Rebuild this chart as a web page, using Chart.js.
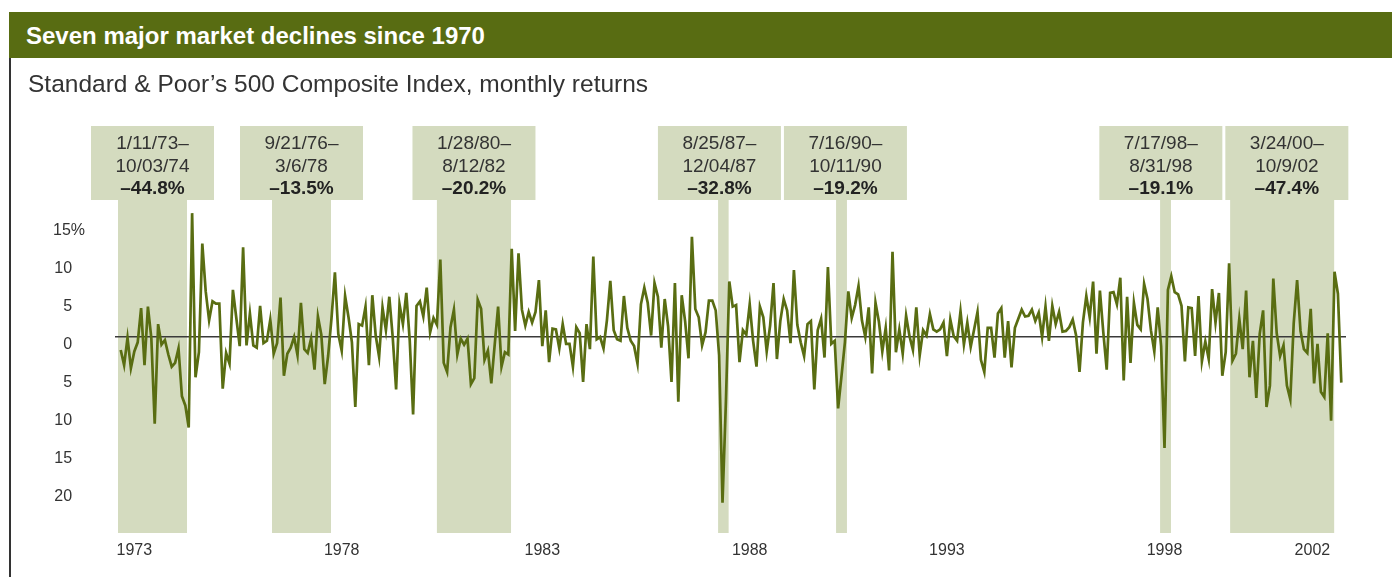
<!DOCTYPE html>
<html>
<head>
<meta charset="utf-8">
<script src="https://cdn.jsdelivr.net/npm/chart.js@4.4.1/dist/chart.umd.min.js"></script>
<style>
html,body{margin:0;padding:0;background:#fff;}
#wrap{position:relative;width:1392px;height:577px;overflow:hidden;font-family:"Liberation Sans",Arial,sans-serif;}
#c{position:absolute;left:0;top:0;}
#title{position:absolute;left:9px;top:12px;width:1383px;height:46px;background:#586c12;color:#fff;font-weight:bold;font-size:24px;line-height:47px;padding-left:17px;box-sizing:border-box;white-space:nowrap;}
#sub{position:absolute;left:28px;top:69px;font-size:24.5px;color:#333;line-height:30px;white-space:nowrap;}
#rule{position:absolute;left:9px;top:58px;width:2px;height:519px;background:#333;}
</style>
</head>
<body>
<div id="wrap">
  <canvas id="c" width="1392" height="577"></canvas>
  <div id="title">Seven major market declines since 1970</div>
  <div id="sub">Standard &amp; Poor’s 500 Composite Index, monthly returns</div>
  <div id="rule"></div>
</div>
<script>
// ---- DATA: S&P 500 monthly returns (%), Jan 1973 - Dec 2002 ----
const returns1973to1979 = [
  -1.7,-3.7,-0.1,-4.1,-1.9,-0.7,3.8,-3.7,4.0,-0.1,-11.4,1.7,
  -1.0,-0.4,-2.3,-3.9,-3.4,-1.5,-7.8,-9.0,-11.9,16.3,-5.3,-2.0,
  12.3,6.0,2.2,4.7,4.4,4.4,-6.8,-2.1,-3.5,6.2,2.5,-1.2,
  11.8,-1.1,3.1,-1.1,-1.4,4.1,-0.8,-0.5,2.3,-2.2,-0.8,5.2,
  -5.1,-2.2,-1.4,0.0,-2.4,4.5,-1.6,-2.1,-0.2,-4.3,2.7,0.3,
  -6.2,-2.5,2.5,8.5,0.4,-1.8,5.4,2.6,-0.7,-9.2,1.7,1.5,
  4.0,-3.7,5.5,0.2,-2.6,3.9,0.9,5.3,0.0,-6.9,4.3,1.7
];
const returns1980to1989 = [
  5.8,-0.4,-10.2,4.1,4.7,2.7,6.5,0.6,2.5,1.6,10.2,-3.4,
  -4.6,1.3,3.6,-2.3,-0.2,-1.0,-0.2,-6.2,-5.4,4.9,3.7,-3.0,
  -1.8,-6.1,-1.0,4.0,-3.9,-2.0,-2.3,11.6,0.8,11.0,3.6,1.5,
  3.3,1.9,3.3,7.5,-1.2,3.5,-3.3,1.1,1.0,-1.5,1.7,-0.9,
  -0.9,-3.9,1.3,0.5,-5.9,1.7,-1.6,10.6,-0.3,0.0,-1.5,2.2,
  7.4,0.9,-0.3,-0.5,5.4,1.2,-0.5,-1.2,-3.5,4.3,6.5,4.5,
  0.2,7.1,5.3,-1.4,5.0,1.4,-5.9,7.1,-8.5,5.5,2.1,-2.8,
  13.2,3.7,2.6,-1.1,0.6,4.8,4.8,3.5,-2.4,-21.8,-8.5,7.3,
  4.0,4.2,-3.3,0.9,0.3,4.3,-0.5,-3.9,4.0,2.6,-1.9,1.5,
  7.1,-2.9,2.1,5.0,3.5,-0.8,8.8,1.6,-0.7,-2.5,1.7,2.1
];
const returns1990to1999 = [
  -6.9,0.9,2.4,-2.7,9.2,-0.9,-0.5,-9.4,-5.1,-0.7,6.0,2.5,
  4.2,6.7,2.2,0.0,3.9,-4.8,4.5,2.0,-1.9,1.2,-4.4,11.2,
  -2.0,1.0,-2.2,2.8,0.1,-1.7,3.9,-2.4,0.9,0.2,3.0,1.0,
  0.7,1.0,1.9,-2.5,2.3,0.1,-0.5,3.4,-1.0,1.9,-1.3,1.0,
  3.3,-3.0,-4.6,1.2,1.2,-2.7,3.1,3.8,-2.7,2.1,-4.0,1.2,
  2.4,3.6,2.7,2.8,3.6,2.1,3.2,0.0,4.0,-0.5,4.1,1.7,
  3.3,0.7,0.8,1.3,2.3,0.2,-4.6,1.9,5.4,2.6,7.3,-2.2,
  6.1,0.6,-4.3,5.8,5.9,4.3,7.8,-5.7,5.3,-3.4,4.5,1.6,
  1.0,7.0,5.0,0.9,-1.9,3.9,-1.2,-14.6,6.2,8.0,5.9,5.6,
  4.1,-3.2,3.9,3.8,-2.5,5.4,-3.2,-0.6,-2.9,6.3,1.9,5.8
];
const returns2000to2002 = [
  -5.1,-2.0,9.7,-3.1,-2.2,2.4,-1.6,6.1,-5.3,-0.5,-8.0,0.4,
  3.5,-9.2,-6.4,7.7,0.5,-2.5,-1.1,-6.4,-8.2,1.8,7.5,0.8,
  -1.6,-2.1,3.7,-6.1,-0.9,-7.2,-7.9,0.5,-11.0,8.6,5.7,-6.0
];

// x-axis tick labels and the month (index from Jan 1973) under which each sits
const tickYears  = ['1973','1978','1983','1988','1993','1998','2002'];
const tickMonths = [4, 65, 124, 185, 243, 307, 350.5];
// y-axis ticks
const yTickValues = [-20,-15,-10,-5,0,5,10,15];

// decline periods (in months from Jan 1973) and their labels
const declineStart = [-0.8, 44.5, 93.0, 175.7, 210.4, 305.7, 326.3];
const declineEnd   = [19.5, 61.85, 114.8, 178.8, 213.6, 308.9, 356.9];
const declineFrom  = ['1/11/73–','9/21/76–','1/28/80–','8/25/87–','7/16/90–','7/17/98–','3/24/00–'];
const declineTo    = ['10/03/74','3/6/78','8/12/82','12/04/87','10/11/90','8/31/98','10/9/02'];
const declinePct   = ['–44.8%','–13.5%','–20.2%','–32.8%','–19.2%','–19.1%','–47.4%'];

// ---- build ----
const allReturns = [].concat(returns1973to1979, returns1980to1989, returns1990to1999, returns2000to2002);
const points = allReturns.map((v, i) => ({x: i, y: v}));

const FONT = '"Liberation Sans", Arial, sans-serif';
const OLIVE = '#596d12';
const BAND = '#d4dbbf';
Chart.defaults.font.family = FONT;

const bandPlugin = {
  id: 'bands',
  beforeDraw(chart) {
    const {ctx, chartArea, scales: {x}} = chart;
    const boxW = 123, boxH = 74, gap = 3;
    ctx.save();
    ctx.fillStyle = BAND;
    const centers = [];
    for (let i = 0; i < declineStart.length; i++) {
      const x0 = x.getPixelForValue(declineStart[i]);
      const x1 = x.getPixelForValue(declineEnd[i]);
      ctx.fillRect(x0, chartArea.top, x1 - x0, chartArea.bottom - chartArea.top);
      centers.push((x0 + x1) / 2);
    }
    // separate overlapping label boxes
    for (let i = 1; i < centers.length; i++) {
      const need = boxW + gap - (centers[i] - centers[i - 1]);
      if (need > 0) { centers[i - 1] -= need / 2; centers[i] += need / 2; }
    }
    const top = chartArea.top - boxH;
    centers.forEach((cx, i) => {
      ctx.fillStyle = BAND;
      ctx.fillRect(cx - boxW / 2, top, boxW, boxH);
      ctx.textAlign = 'center';
      ctx.textBaseline = 'alphabetic';
      ctx.fillStyle = '#333';
      ctx.font = '19px ' + FONT;
      ctx.fillText(declineFrom[i], cx, top + 23);
      ctx.fillText(declineTo[i], cx, top + 45.5);
      ctx.fillStyle = '#222';
      ctx.font = 'bold 19px ' + FONT;
      ctx.fillText(declinePct[i], cx, top + 68);
    });
    ctx.restore();
  }
};

new Chart(document.getElementById('c'), {
  type: 'line',
  data: {
    datasets: [{
      data: points,
      borderColor: OLIVE,
      borderWidth: 2.7,
      pointRadius: 0,
      tension: 0,
      fill: false
    }]
  },
  options: {
    responsive: false,
    animation: false,
    devicePixelRatio: 1,
    layout: {padding: {top: 200, right: 46, left: 0, bottom: 0}},
    plugins: {legend: {display: false}, tooltip: {enabled: false}, title: {display: false}},
    scales: {
      x: {
        type: 'linear',
        min: -1.68,
        max: 360.38,
        grid: {display: false},
        border: {display: false},
        afterBuildTicks: s => { s.ticks = tickMonths.map(v => ({value: v})); },
        afterFit: s => { s.height = 44; },
        ticks: {
          autoSkip: false, maxRotation: 0, minRotation: 0, padding: 0,
          color: '#333', font: {size: 16},
          callback: (v, i) => tickYears[i]
        }
      },
      y: {
        min: -25.79,
        max: 18.03,
        border: {display: false},
        afterBuildTicks: s => { s.ticks = yTickValues.map(v => ({value: v})); },
        afterFit: s => { s.width = 115; },
        grid: {
          drawTicks: false,
          lineWidth: 1.5,
          color: c => (c.tick && c.tick.value === 0) ? '#3a3a3a' : 'rgba(0,0,0,0)'
        },
        ticks: {
          padding: 30, labelOffset: 8, color: '#333', font: {size: 16},
          callback: v => Math.abs(v) + (v === Math.max(...yTickValues) ? '%' : '\u2007\u2005')
        }
      }
    }
  },
  plugins: [bandPlugin]
});
</script>
</body>
</html>
